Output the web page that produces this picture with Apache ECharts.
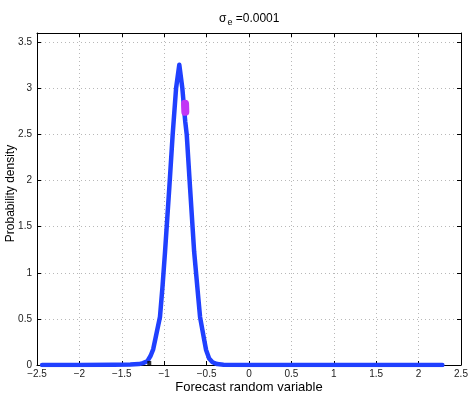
<!DOCTYPE html>
<html>
<head>
<meta charset="utf-8">
<script src="https://cdn.jsdelivr.net/npm/echarts@6/dist/echarts.min.js"></script>
<style>
html, body { margin: 0; padding: 0; background: #fff; }
#chart { width: 470px; height: 397px; }
</style>
</head>
<body>
<div id="chart"></div>
<script>
// density curve
var densX = [-2.44, -2.0, -1.6, -1.4, -1.3, -1.25, -1.2, -1.16, -1.13, -1.10, -1.05, -1.02, -0.99,
    -0.94, -0.90, -0.86, -0.822, -0.786, -0.752, -0.734, -0.695, -0.647, -0.60, -0.577, -0.53,
    -0.506, -0.47, -0.43, -0.376, -0.3, 0, 0.5, 2.28]
var densY = [0, 0, 0.002, 0.005, 0.01, 0.02, 0.04, 0.1, 0.17, 0.3, 0.52, 0.85, 1.23,
    1.92, 2.5, 3.0, 3.256, 3.0, 2.64, 2.496, 1.92, 1.23, 0.75, 0.52, 0.28,
    0.163, 0.07, 0.03, 0.01, 0.003, 0.001, 0, 0]
var magentaX = [-0.754, -0.751]
var magentaY = [2.833, 2.746]
var blackPt = [-1.176, 0.016]
var xTicks = [-2.5, 2.5, 0.5]
var yTicks = [0, 3.6, 0.5]

var chart = echarts.init(document.getElementById('chart'))
var font = 'Liberation Sans, Arial, sans-serif'

function pairs(xs, ys) {
    return xs.map(function (x, i) { return [x, ys[i]] })
}
function minus(v) {
    return String(v).replace('-', '\u2212')
}

var axisCommon = {
    axisLine: { show: true, onZero: false, lineStyle: { color: '#000', width: 1 } },
    axisTick: { show: true, inside: true, length: 4, lineStyle: { color: '#000' } },
}

var option = {
    backgroundColor: '#fff',
    animation: false,
    title: {
        text: '{s|σ}{e|e}{s| =0.0001}',
        left: 214,
        top: 5,
        textStyle: {
            fontWeight: 'normal',
            rich: {
                s: { fontFamily: font, fontSize: 12, color: '#000', fontWeight: 'normal' },
                e: { fontFamily: font, fontSize: 9, color: '#000', fontWeight: 'normal', padding: [8, 0, 0, 1] },
            },
        },
    },
    grid: { left: 37, right: 9, top: 33, bottom: 32, containLabel: false, outerBoundsMode: 'none' },
    xAxis: [
        Object.assign({
            type: 'value', min: xTicks[0], max: xTicks[1], interval: xTicks[2],
            name: 'Forecast random variable', nameLocation: 'middle', nameGap: 16, nameMoveOverlap: false,
            nameTextStyle: { fontFamily: font, fontSize: 13, color: '#000', verticalAlign: 'top' },
            axisLabel: { fontFamily: font, fontSize: 10, color: '#222', margin: 4, formatter: minus },
            splitLine: { show: true, lineStyle: { color: '#b8b8b8', type: [1, 3] } },
        }, axisCommon),
        Object.assign({
            type: 'value', position: 'top', min: xTicks[0], max: xTicks[1], interval: xTicks[2],
            axisLabel: { show: false }, splitLine: { show: false },
        }, axisCommon),
    ],
    yAxis: [
        Object.assign({
            type: 'value', min: yTicks[0], max: yTicks[1], interval: yTicks[2],
            name: 'Probability density', nameLocation: 'middle', nameGap: 20, nameRotate: 90, nameMoveOverlap: false,
            nameTextStyle: { fontFamily: font, fontSize: 12, color: '#000', padding: [0, 0, 0, 11] },
            axisLabel: { fontFamily: font, fontSize: 10, color: '#222', margin: 5, showMaxLabel: false },
            splitLine: { show: true, lineStyle: { color: '#b8b8b8', type: [1, 3] } },
        }, axisCommon),
        Object.assign({
            type: 'value', position: 'right', min: yTicks[0], max: yTicks[1], interval: yTicks[2],
            axisLabel: { show: false }, splitLine: { show: false },
        }, axisCommon),
    ],
    series: [
        {
            type: 'line',
            data: pairs(densX, densY),
            showSymbol: false,
            lineStyle: { color: '#2040ff', width: 4.5, cap: 'round', join: 'round' },
            z: 3,
        },
        {
            type: 'line',
            data: pairs(magentaX, magentaY),
            showSymbol: false,
            lineStyle: { color: '#c236f5', width: 8, cap: 'round' },
            z: 4,
        },
        {
            type: 'scatter',
            data: [blackPt],
            symbol: 'rect',
            symbolSize: [4, 5],
            itemStyle: { color: '#000' },
            z: 5,
        },
    ],
}
chart.setOption(option)
</script>
</body>
</html>
